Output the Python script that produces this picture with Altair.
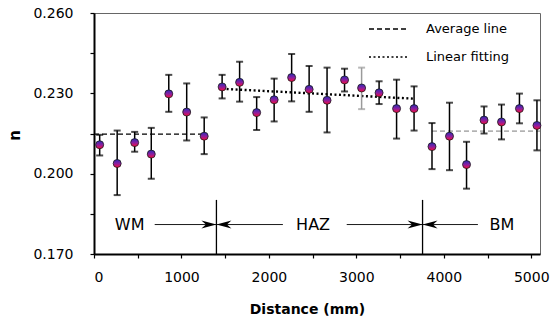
import altair as alt
import pandas as pd

# ---- data ----
distance = [65, 265, 465, 655, 855, 1060, 1260, 1465, 1665, 1860, 2060, 2260, 2460,
            2665, 2865, 3060, 3260, 3460, 3660, 3865, 4065, 4260, 4460, 4660, 4865, 5065]
n_value = [0.2108, 0.2038, 0.2116, 0.2073, 0.2298, 0.2230, 0.2140, 0.2324, 0.2341,
           0.2228, 0.2276, 0.2359, 0.2315, 0.2274, 0.2350, 0.2320, 0.2302, 0.2243,
           0.2243, 0.2101, 0.2140, 0.2034, 0.2200, 0.2193, 0.2243, 0.2180]
n_high = [0.2145, 0.2161, 0.2156, 0.2171, 0.2369, 0.2337, 0.2210, 0.2369, 0.2418,
          0.2286, 0.2355, 0.2447, 0.2402, 0.2396, 0.2392, 0.2396, 0.2345, 0.2351,
          0.2326, 0.2189, 0.2265, 0.2119, 0.2251, 0.2258, 0.2299, 0.2274]
n_low = [0.2068, 0.1920, 0.2082, 0.1981, 0.2231, 0.2124, 0.2073, 0.2281, 0.2269,
         0.2163, 0.2195, 0.2270, 0.2231, 0.2154, 0.2307, 0.2241, 0.2260, 0.2131,
         0.2161, 0.2017, 0.2013, 0.1944, 0.2150, 0.2128, 0.2188, 0.2087]
bar_color = ["black"] * 15 + ["#9a9a9a"] + ["black"] * 10

# fitted / average lines (two end points per segment)
seg_x = [0, 1260, 1465, 3660, 3865, 5100]
seg_y = [0.2148, 0.2148, 0.2317, 0.2280, 0.2159, 0.2159]
seg_id = ["WM", "WM", "HAZ", "HAZ", "BM", "BM"]
seg_kind = ["Average line", "Average line", "Linear fitting", "Linear fitting",
            "Average line", "Average line"]
seg_color = ["black", "black", "black", "black", "#7a7a7a", "#7a7a7a"]
seg_width = [1.3, 1.3, 2.4, 2.4, 1.0, 1.0]

# zone annotations
zone_names = ["WM", "HAZ", "BM"]
zone_label_x = [408, 2505, 4665]
zone_y = 0.1810
boundary_x = [1400, 3757]
boundary_top = 0.1902
arrow_from = [694, 1400, 2890, 3757]
arrow_to = [1400, 2160, 3757, 4390]

FONT = "DejaVu Sans"

pts = pd.DataFrame({"x": distance, "n": n_value, "hi": n_high, "lo": n_low, "c": bar_color})
segs = pd.DataFrame({"x": seg_x, "y": seg_y, "id": seg_id, "kind": seg_kind,
                     "c": seg_color, "w": seg_width})
zones = pd.DataFrame({"x": zone_label_x, "y": [zone_y] * 3, "t": zone_names})
bounds = pd.DataFrame({"x": boundary_x, "y": [0.170] * 2, "y2": [boundary_top] * 2})
arrows = pd.DataFrame({"x": arrow_from, "x2": arrow_to, "y": [zone_y] * 4})
heads_r = pd.DataFrame({"x": boundary_x, "y": [zone_y] * 2})
heads_l = pd.DataFrame({"x": boundary_x, "y": [zone_y] * 2})

xscale = alt.Scale(domain=[0, 5100], nice=False, zero=False)
yscale = alt.Scale(domain=[0.17, 0.26], nice=False, zero=False)

xaxis = alt.Axis(
    title="Distance (mm)", values=list(range(0, 5001, 500)),
    labelExpr="datum.value % 1000 == 0 ? format(datum.value, 'd') : ''",
    grid=False, tickSize=4, tickWidth=1.2, tickColor="black",
    domainColor="black", domainWidth=2, labelFont=FONT, labelFontSize=14,
    labelColor="black", labelPadding=12, titleFont=FONT, titleFontSize=14,
    titleFontWeight="bold", titleColor="black", titleX=213, titleY=59,
    titleBaseline="alphabetic", titleAnchor="middle", titleAlign="center")
yaxis = alt.Axis(
    title="n", values=[0.17, 0.185, 0.2, 0.215, 0.23, 0.245, 0.26],
    labelExpr="round(datum.value*1000) % 30 == 20 ? format(datum.value, '.3f') : ''",
    grid=False, tickSize=4, tickWidth=1.2, tickColor="black",
    domainColor="black", domainWidth=2, labelFont=FONT, labelFontSize=14,
    labelColor="black", labelPadding=17, titleFont=FONT, titleFontSize=15,
    titleFontWeight="bold", titleColor="black", titleAngle=-90,
    titleX=-72, titleY=122, titleBaseline="bottom", titleAlign="center")

X = alt.X("x:Q", scale=xscale, axis=xaxis)
Y = alt.Y("y:Q", scale=yscale, axis=yaxis)

lines = alt.Chart(segs).mark_line().encode(
    x=X, y=Y, detail="id:N",
    strokeDash=alt.StrokeDash("kind:N", scale=alt.Scale(
        domain=["Average line", "Linear fitting"], range=[[5, 3], [2, 2.5]]),
        legend=alt.Legend(title=None, orient="none", legendX=274, legendY=-5,
                          symbolType="stroke", symbolSize=1600,
                          symbolStrokeColor="black", symbolStrokeWidth=1.6,
                          labelFont=FONT, labelFontSize=13, labelColor="black",
                          labelOffset=16, rowPadding=-17, padding=0)),
    color=alt.Color("c:N", scale=None),
    strokeWidth=alt.StrokeWidth("w:Q", scale=None),
)

bars = alt.Chart(pts).mark_rule(strokeWidth=1.5).encode(
    x=alt.X("x:Q", scale=xscale, axis=xaxis),
    y=alt.Y("lo:Q", scale=yscale, axis=yaxis), y2="hi:Q",
    color=alt.Color("c:N", scale=None))
cap_hi = alt.Chart(pts).mark_tick(orient="horizontal", size=7, thickness=2).encode(
    x=alt.X("x:Q", scale=xscale, axis=xaxis),
    y=alt.Y("hi:Q", scale=yscale, axis=yaxis), color=alt.Color("c:N", scale=None))
cap_lo = alt.Chart(pts).mark_tick(orient="horizontal", size=7, thickness=2).encode(
    x=alt.X("x:Q", scale=xscale, axis=xaxis),
    y=alt.Y("lo:Q", scale=yscale, axis=yaxis), color=alt.Color("c:N", scale=None))

grad = alt.LinearGradient(
    gradient="linear",
    stops=[alt.GradientStop(color="#2a2ab8", offset=0),
           alt.GradientStop(color="#8a1fa0", offset=0.5),
           alt.GradientStop(color="#ff0a3c", offset=1)],
    x1=0, x2=0, y1=0, y2=1)
points = alt.Chart(pts).mark_point(
    shape="circle", filled=True, fill=grad, stroke="#1a1a1a", strokeWidth=0.8,
    size=64, opacity=1).encode(
    x=alt.X("x:Q", scale=xscale, axis=xaxis),
    y=alt.Y("n:Q", scale=yscale, axis=yaxis))

bound_rules = alt.Chart(bounds).mark_rule(color="black", strokeWidth=1.3).encode(
    x=alt.X("x:Q", scale=xscale, axis=xaxis),
    y=alt.Y("y:Q", scale=yscale, axis=yaxis), y2="y2:Q")
arrow_rules = alt.Chart(arrows).mark_rule(color="black", strokeWidth=0.9).encode(
    x=alt.X("x:Q", scale=xscale, axis=xaxis), x2="x2:Q",
    y=alt.Y("y:Q", scale=yscale, axis=yaxis))
right_head = "M0,0 L-1,-0.27 L-0.7,0 L-1,0.27 Z"
left_head = "M0,0 L1,-0.27 L0.7,0 L1,0.27 Z"
heads_right = alt.Chart(heads_r).mark_point(
    shape=right_head, size=900, filled=True, color="black", opacity=1).encode(
    x=alt.X("x:Q", scale=xscale, axis=xaxis), y=alt.Y("y:Q", scale=yscale, axis=yaxis))
heads_left = alt.Chart(heads_l).mark_point(
    shape=left_head, size=900, filled=True, color="black", opacity=1).encode(
    x=alt.X("x:Q", scale=xscale, axis=xaxis), y=alt.Y("y:Q", scale=yscale, axis=yaxis))
zone_text = alt.Chart(zones).mark_text(
    font=FONT, fontSize=16, color="black", baseline="middle", align="center").encode(
    x=alt.X("x:Q", scale=xscale, axis=xaxis),
    y=alt.Y("y:Q", scale=yscale, axis=yaxis), text="t:N")

chart = alt.layer(
    lines, bars, cap_hi, cap_lo, points,
    bound_rules, arrow_rules, heads_right, heads_left, zone_text
).properties(
    width=446, height=241,
    padding={"left": 94, "top": 13, "right": 15, "bottom": 68},
    autosize=alt.AutoSizeParams(type="none"),
    background="white",
).configure_view(stroke="#666666", strokeWidth=1)

chart.save("out.html", embed_options={"renderer": "svg", "actions": False})
